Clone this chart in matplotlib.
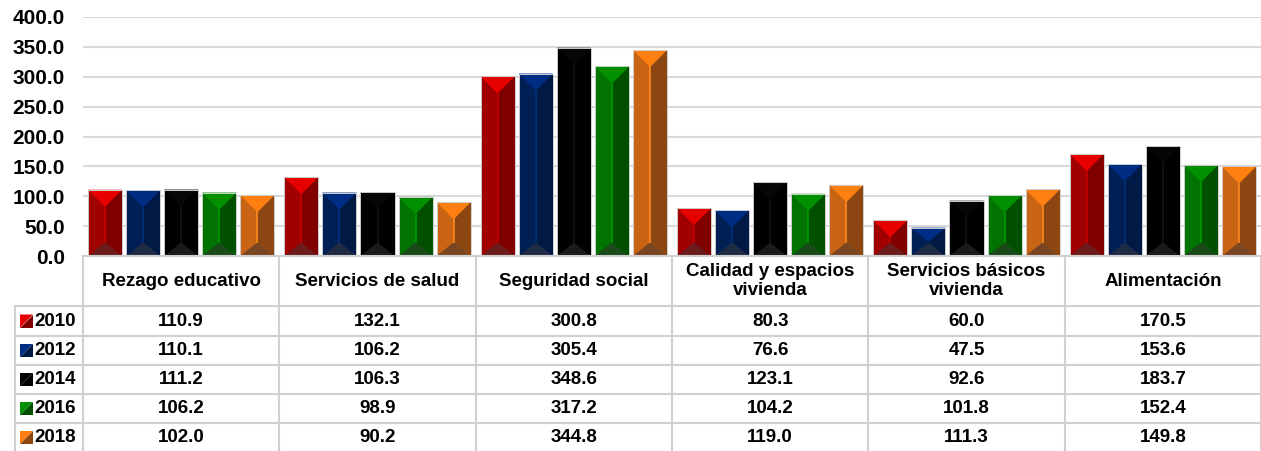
import matplotlib
matplotlib.use('Agg')
import matplotlib.pyplot as plt
from matplotlib.patches import Polygon, Rectangle
import numpy as np

plt.rcParams['font.family'] = ['Liberation Sans', 'DejaVu Sans']
plt.rcParams['font.weight'] = 'bold'

# datos
categorias = ['Rezago educativo', 'Servicios de salud', 'Seguridad social',
              'Calidad y espacios\nvivienda', 'Servicios básicos\nvivienda', 'Alimentación']
anios = ['2010', '2012', '2014', '2016', '2018']
v2010 = [110.9, 132.1, 300.8, 80.3, 60.0, 170.5]
v2012 = [110.1, 106.2, 305.4, 76.6, 47.5, 153.6]
v2014 = [111.2, 106.3, 348.6, 123.1, 92.6, 183.7]
v2016 = [106.2, 98.9, 317.2, 104.2, 101.8, 152.4]
v2018 = [102.0, 90.2, 344.8, 119.0, 111.3, 149.8]
series = [v2010, v2012, v2014, v2016, v2018]

# colores: arriba, izquierda, derecha, abajo, linea central
colores = [
    ('#e60000', '#a00000', '#800000', '#6b1c1c', '#c40000'),
    ('#002d84', '#001f55', '#001a45', '#1f2a44', '#00307a'),
    ('#060606', '#000000', '#000000', '#1a1a1a', '#141414'),
    ('#009000', '#007300', '#005000', '#1a4a1a', '#009a00'),
    ('#ff8010', '#c86414', '#8c4612', '#7a4622', '#ff8a20'),
]

W, H, DPI = 12.61, 4.51, 100
fig = plt.figure(figsize=(W, H), dpi=DPI)

x0_px, x1_px = 83, 1261
y_top_px, y_zero_px = 17, 256
ax = fig.add_axes([x0_px / 1261, (451 - y_zero_px) / 451,
                   (x1_px - x0_px) / 1261, (y_zero_px - y_top_px) / 451])
ax.set_xlim(-0.5, 5.5)
ax.set_ylim(0, 400)
ax.set_yticks(np.arange(0, 401, 50))
ax.set_yticklabels([f'{t:.1f}' for t in np.arange(0, 401, 50)], fontsize=15, fontweight='bold')
ax.tick_params(axis='y', length=0, pad=13)
ax.set_xticks([])
for s in ax.spines.values():
    s.set_visible(False)
ax.grid(axis='y', color='#d9d9d9', lw=1.5)
ax.set_axisbelow(True)

ancho = 0.174
paso = 0.194
px_por_u = (y_zero_px - y_top_px) / 400.0
ancho_px = ancho * (x1_px - x0_px) / 6.0
prof = (ancho_px / 2) / px_por_u  # profundidad del bisel en unidades de datos

x = np.arange(len(categorias))
for k, (vals, c) in enumerate(zip(series, colores)):
    xs = x + (k - 2) * paso
    bars = ax.bar(xs, vals, ancho, color=c[1], lw=0, zorder=2)
    for b in bars:
        l = b.get_x()
        r = l + b.get_width()
        h = b.get_height()
        m = (l + r) / 2
        d = min(prof, h / 2)
        db = min(prof * 0.8, h / 2)
        ax.add_patch(Polygon([(m, h - d), (r, h), (r, 0), (m, db)], closed=True,
                             facecolor=c[2], lw=0, zorder=3))
        ax.add_patch(Polygon([(l, h), (r, h), (m, h - d)], closed=True,
                             facecolor=c[0], lw=0, zorder=3))
        ax.add_patch(Polygon([(l, 0), (r, 0), (m, db)], closed=True,
                             facecolor=c[3], lw=0, zorder=3))
        ax.plot([m, m], [db, h - d], color=c[4], lw=1.2, zorder=4)
        ax.add_patch(Rectangle((l, 0), r - l, h, fill=False, edgecolor='#cfcfcf',
                               lw=0.7, zorder=5))

# tabla de datos
tax = fig.add_axes([0, 0, 1, 1])
tax.set_xlim(0, 1261)
tax.set_ylim(451, 0)
tax.axis('off')
gris = '#d0d0d0'
bordes_x = np.linspace(x0_px, x1_px, len(categorias) + 1)
filas_y = [256, 306, 336, 365, 394, 423, 452]
for bx in bordes_x:
    tax.plot([bx, bx], [256, 451], color=gris, lw=1.5)
tax.plot([15, 15], [306, 451], color=gris, lw=1.5)
tax.plot([x0_px, x1_px], [256, 256], color=gris, lw=1.5)
for fy in filas_y[1:-1]:
    tax.plot([15, x1_px], [fy, fy], color=gris, lw=1.5)

centros = (bordes_x[:-1] + bordes_x[1:]) / 2
for cx, cat in zip(centros, categorias):
    tax.text(cx, 281, cat, ha='center', va='center', fontsize=13.5, fontweight='bold',
             linespacing=1.2)

for k, (anio, vals, c) in enumerate(zip(anios, series, colores)):
    cy = (filas_y[k + 1] + filas_y[k + 2]) / 2
    # clave de leyenda
    sx, sy, ss = 20, cy - 6.5, 13
    tax.add_patch(Polygon([(sx, sy), (sx + ss, sy), (sx, sy + ss)], closed=True,
                          facecolor=c[0], lw=0))
    tax.add_patch(Polygon([(sx + ss, sy), (sx + ss, sy + ss), (sx, sy + ss)], closed=True,
                          facecolor=c[2], lw=0))
    tax.text(34, cy, anio, ha='left', va='center', fontsize=13.5, fontweight='bold')
    for cx, v in zip(centros, vals):
        tax.text(cx, cy, f'{v:.1f}', ha='center', va='center', fontsize=13.5, fontweight='bold')

fig.savefig('out.png', dpi=DPI)
